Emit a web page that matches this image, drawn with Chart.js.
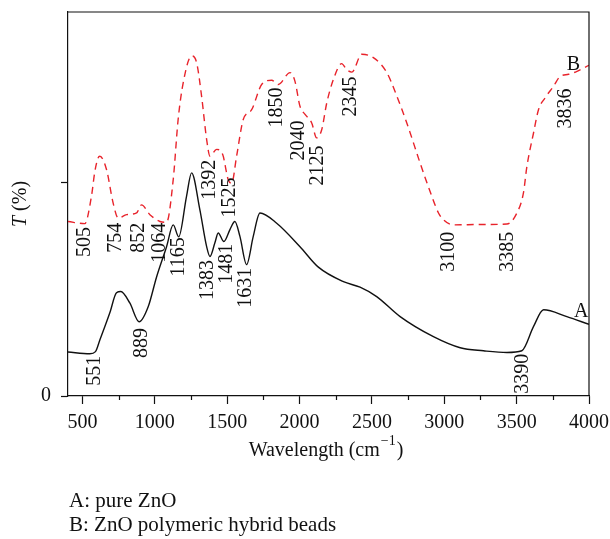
<!DOCTYPE html>
<html>
<head>
<meta charset="utf-8">
<script src="https://cdn.jsdelivr.net/npm/chart.js@4.4.0/dist/chart.umd.min.js"></script>
<style>
html, body { margin: 0; padding: 0; background: #fff; }
#wrap { position: relative; width: 610px; height: 539px; }
</style>
</head>
<body>
<div id="wrap"><canvas id="ftir" width="610" height="539"></canvas></div>
<script>
"use strict"

// A: pure ZnO (solid black)
const waveA = [400, 551, 590, 620, 689, 735, 765, 827, 892, 954, 1012, 1081, 1127, 1165, 1219, 1254, 1311, 1358, 1381, 1415, 1438, 1477, 1519, 1553, 1588, 1634, 1680, 1726, 1842, 2003, 2130, 2303, 2418, 2533, 2695, 2925, 3110, 3271, 3433, 3536, 3617, 3686, 3847, 4000];
const transA = [10.3, 9.9, 10.4, 13.1, 19.5, 24.2, 24.5, 21.8, 17.4, 20.9, 27.9, 35.0, 40.1, 37.3, 46.8, 52.3, 43.7, 35.0, 32.7, 35.9, 38.2, 36.2, 39.0, 40.9, 37.4, 30.8, 37.4, 42.9, 40.5, 35.0, 30.2, 26.8, 25.5, 23.3, 18.6, 13.9, 11.3, 10.6, 10.2, 10.6, 16.3, 20.2, 18.6, 16.8];

// B: ZnO polymeric hybrid beads (red dashed)
const waveB = [400, 516, 562, 585, 608, 620, 666, 712, 747, 805, 874, 908, 966, 1035, 1081, 1127, 1161, 1196, 1254, 1289, 1323, 1358, 1381, 1427, 1469, 1507, 1531, 1565, 1611, 1669, 1738, 1807, 1853, 1934, 1968, 2003, 2038, 2084, 2118, 2153, 2188, 2234, 2291, 2326, 2361, 2430, 2510, 2603, 2672, 2741, 2833, 2914, 2960, 2994, 3063, 3250, 3433, 3502, 3547, 3571, 3617, 3651, 3697, 3755, 3801, 3859, 3917, 4000];
const transB = [40.9, 40.4, 46.8, 52.5, 55.8, 56.2, 53.1, 45.2, 41.7, 42.5, 42.9, 44.8, 42.5, 40.9, 40.7, 50.7, 64.8, 73.4, 79.7, 78.1, 70.3, 60.1, 56.2, 57.8, 56.6, 50.7, 49.9, 56.2, 64.8, 67.1, 73.0, 74.0, 73.0, 75.8, 73.8, 67.9, 66.0, 64.0, 60.5, 62.4, 68.7, 74.2, 77.9, 76.5, 75.9, 80.1, 79.3, 75.8, 70.3, 64.0, 54.6, 46.8, 42.9, 41.3, 40.1, 40.2, 40.3, 42.9, 47.6, 53.8, 61.7, 67.1, 69.9, 72.6, 74.9, 75.4, 76.1, 77.5];

// axis ticks
const xTicks = [500, 1000, 1500, 2000, 2500, 3000, 3500, 4000];
const yTicks = [0, 50];

// peak labels (text, wavenumber, T)
const peakTextA = ['551', '889', '1165', '1383', '1481', '1631', '3390'];
const peakXA = [582, 907, 1163, 1363, 1495, 1630, 3542];
const peakYA = [5.9, 12.4, 32.6, 27.2, 31.0, 25.4, 5.2];

const peakTextB = ['505', '754', '852', '1064', '1392', '1525', '1850', '2040', '2125', '2345', '3100', '3385', '3836'];
const peakXB = [513, 731, 886, 1031, 1377, 1519, 1841, 1996, 2124, 2352, 3034, 3438, 3839];
const peakYB = [36.1, 37.1, 37.1, 35.9, 50.7, 46.5, 67.6, 59.9, 54.0, 70.2, 33.8, 33.8, 67.4];

const ink = '#111';
const serif = '"Liberation Serif", "DejaVu Serif", serif';

const extras = {
    id: 'extras',
    afterDraw(chart) {
        const ctx = chart.ctx;
        const a = chart.chartArea;
        const x = chart.scales.x;
        const y = chart.scales.y;
        ctx.save();

        // top and right frame
        ctx.strokeStyle = ink;
        ctx.lineWidth = 1.2;
        ctx.beginPath();
        ctx.moveTo(a.left, a.top);
        ctx.lineTo(a.right, a.top);
        ctx.lineTo(a.right, a.bottom);
        ctx.stroke();

        // minor ticks between the labelled ones
        ctx.beginPath();
        xTicks.slice(0, -1).forEach(v => {
            const px = Math.round(x.getPixelForValue(v + 250)) + 0.5;
            ctx.moveTo(px, a.bottom);
            ctx.lineTo(px, a.bottom + 4);
        });
        ctx.stroke();

        // rotated peak labels
        ctx.fillStyle = ink;
        ctx.font = '20px ' + serif;
        ctx.textAlign = 'center';
        ctx.textBaseline = 'middle';
        function vText(t, wx, wy) {
            ctx.save();
            ctx.translate(x.getPixelForValue(wx), y.getPixelForValue(wy));
            ctx.rotate(-Math.PI / 2);
            ctx.fillText(t, 0, 0);
            ctx.restore();
        }
        peakTextA.forEach((t, i) => vText(t, peakXA[i], peakYA[i]));
        peakTextB.forEach((t, i) => vText(t, peakXB[i], peakYB[i]));

        // curve letters
        ctx.fillText('A', x.getPixelForValue(3946), y.getPixelForValue(19.7));
        ctx.fillText('B', x.getPixelForValue(3893), y.getPixelForValue(77.7));

        // y title: T (%)
        ctx.save();
        ctx.translate(26, (a.top + a.bottom) / 2);
        ctx.rotate(-Math.PI / 2);
        ctx.textAlign = 'left';
        ctx.textBaseline = 'alphabetic';
        ctx.font = 'italic 20px ' + serif;
        const wT = ctx.measureText('T').width;
        ctx.font = '20px ' + serif;
        const wP = ctx.measureText(' (%)').width;
        let sx = -(wT + wP) / 2;
        ctx.font = 'italic 20px ' + serif;
        ctx.fillText('T', sx, 0);
        ctx.font = '20px ' + serif;
        ctx.fillText(' (%)', sx + wT, 0);
        ctx.restore();

        // x title: Wavelength (cm^-1)
        ctx.textAlign = 'left';
        ctx.textBaseline = 'alphabetic';
        ctx.font = '20px ' + serif;
        const t1 = 'Wavelength (cm';
        const t3 = ')';
        const w1 = ctx.measureText(t1).width;
        const w3 = ctx.measureText(t3).width;
        ctx.font = '14px ' + serif;
        const w2 = ctx.measureText('\u22121').width + 2;
        let tx = 326 - (w1 + w2 + w3) / 2;
        ctx.font = '20px ' + serif;
        ctx.fillText(t1, tx, 456);
        ctx.font = '14px ' + serif;
        ctx.fillText('\u22121', tx + w1 + 1, 445);
        ctx.font = '20px ' + serif;
        ctx.fillText(t3, tx + w1 + w2, 456);

        // notes under the chart
        ctx.font = '21px ' + serif;
        ctx.fillText('A: pure ZnO', 69, 507);
        ctx.fillText('B: ZnO polymeric hybrid beads', 69, 531);

        ctx.restore();
    }
};

const chart = new Chart(document.getElementById('ftir'), {
    type: 'line',
    data: {
        datasets: [{
            label: 'A: pure ZnO',
            data: waveA.map((w, i) => ({x: w, y: transA[i]})),
            borderColor: ink,
            borderWidth: 1.4,
            pointRadius: 0,
            cubicInterpolationMode: 'monotone',
            fill: false
        }, {
            label: 'B: ZnO polymeric hybrid beads',
            data: waveB.map((w, i) => ({x: w, y: transB[i]})),
            borderColor: '#e8232b',
            borderWidth: 1.4,
            borderDash: [7, 5],
            pointRadius: 0,
            cubicInterpolationMode: 'monotone',
            fill: false
        }]
    },
    options: {
        responsive: false,
        animation: false,
        devicePixelRatio: 1,
        layout: { padding: { top: 12, right: 21, left: 0, bottom: 0 } },
        plugins: {
            legend: { display: false },
            tooltip: { enabled: false }
        },
        scales: {
            x: {
                type: 'linear',
                min: 400,
                max: 4000,
                afterBuildTicks: s => { s.ticks = xTicks.map(v => ({value: v})); },
                afterFit: s => { s.height = 143; s.paddingLeft = 0; s.paddingRight = 0; },
                grid: { drawOnChartArea: false, drawTicks: true, tickLength: 8, tickColor: ink, tickWidth: 1.2 },
                border: { display: true, color: ink, width: 1.2 },
                ticks: { color: ink, font: { family: serif, size: 20 }, padding: 7, maxRotation: 0, autoSkip: false, callback: v => String(v) }
            },
            y: {
                type: 'linear',
                min: 0,
                max: 90,
                afterBuildTicks: s => { s.ticks = yTicks.map(v => ({value: v})); },
                afterFit: s => { s.width = 68; s.paddingTop = 0; s.paddingBottom = 0; },
                grid: { drawOnChartArea: false, drawTicks: true, tickLength: 7, tickColor: ink, tickWidth: 1.2 },
                border: { display: true, color: ink, width: 1.2 },
                ticks: {
                    color: ink,
                    font: { family: serif, size: 20 },
                    padding: 10,
                    callback: v => v === 0 ? '0' : ''
                }
            }
        }
    },
    plugins: [extras]
});
</script>
</body>
</html>
